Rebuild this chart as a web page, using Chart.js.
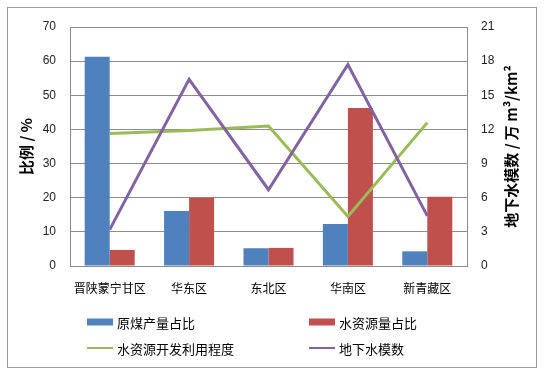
<!DOCTYPE html>
<html>
<head>
<meta charset="utf-8">
<script src="https://cdn.jsdelivr.net/npm/chart.js@4"></script>
<style>
  html,body{margin:0;padding:0;background:#fff}
  #wrap{width:544px;height:376px;position:relative}
</style>
</head>
<body>
<div id="wrap"><canvas id="chart" width="544" height="376"></canvas></div>
<script>
// regions and values
const regions = ['晋陕蒙宁甘区','华东区','东北区','华南区','新青藏区']
const coalShare = [61.3, 16.1, 5.2, 12.3, 4.3]      // 原煤产量占比 %
const waterShare = [4.7, 20.0, 5.3, 46.3, 20.3]     // 水资源量占比 %
const waterUse = [38.8, 39.7, 41.0, 14.5, 42.0]     // 水资源开发利用程度 %
const groundModulus = [3.2, 16.4, 6.7, 17.7, 4.4]   // 地下水模数 万m3/km2

const leftTicks = [0,10,20,30,40,50,60,70]
const rightTicks = [0,3,6,9,12,15,18,21]

const FONT = '"Liberation Sans", "Noto Sans CJK SC", sans-serif'
const CJK = '"Noto Sans CJK SC", "Liberation Sans", sans-serif'

const framePlugin = {
  id:'frame',
  beforeDraw(chart){
    const c = chart.ctx
    c.save()
    c.fillStyle = '#fff'
    c.fillRect(0,0,chart.width,chart.height)
    c.strokeStyle = '#9a9a9a'
    c.lineWidth = 1
    c.strokeRect(7.5,7.5,529,360)
    c.restore()
  },
  afterDraw(chart){
    const c = chart.ctx
    const area = chart.chartArea
    const midY = (area.top+area.bottom)/2
    c.save()
    c.fillStyle = '#000'
    c.textAlign = 'center'
    c.textBaseline = 'middle'
    // axis titles, both reading bottom-to-top
    c.font = 'bold 15px ' + CJK
    c.translate(26, midY); c.rotate(-Math.PI/2)
    c.fillText('比例 / %', 0, 0)
    c.setTransform(1,0,0,1,0,0)
    c.translate(511, midY); c.rotate(-Math.PI/2)
    c.fillText('地下水模数 / 万 m³/km²', 0, 0)
    c.setTransform(1,0,0,1,0,0)
    // legend, 2 x 2
    const items = [
      {ds:0, x:87, y:322}, {ds:1, x:309, y:322},
      {ds:2, x:87, y:348}, {ds:3, x:309, y:348}
    ]
    c.font = '13px ' + CJK
    c.textAlign = 'left'
    items.forEach(it=>{
      const d = chart.data.datasets[it.ds]
      if(d.type==='bar'){
        c.fillStyle = d.backgroundColor
        c.fillRect(it.x, it.y-3.5, 26, 7)
      } else {
        c.strokeStyle = d.borderColor
        c.lineWidth = 2
        c.beginPath(); c.moveTo(it.x, it.y); c.lineTo(it.x+26, it.y); c.stroke()
      }
      c.fillStyle = '#000'
      c.fillText(d.label, it.x+30, it.y+1)
    })
    c.restore()
  }
}

new Chart(document.getElementById('chart'), {
  data:{
    labels: regions,
    datasets:[
      {type:'bar', label:'原煤产量占比', data:coalShare, backgroundColor:'#4F81BD', yAxisID:'y', order:2,
       categoryPercentage:0.63, barPercentage:1.0},
      {type:'bar', label:'水资源量占比', data:waterShare, backgroundColor:'#C0504D', yAxisID:'y', order:2,
       categoryPercentage:0.63, barPercentage:1.0},
      {type:'line', label:'水资源开发利用程度', data:waterUse, borderColor:'#9BBB59', borderWidth:3,
       pointRadius:0, tension:0, yAxisID:'y', order:1},
      {type:'line', label:'地下水模数', data:groundModulus, borderColor:'#8064A2', borderWidth:3,
       pointRadius:0, tension:0, yAxisID:'y1', order:0}
    ]
  },
  options:{
    responsive:false,
    animation:false,
    events:[],
    layout:{padding:{top:27,left:0,right:0,bottom:0}},
    plugins:{legend:{display:false}, tooltip:{enabled:false}},
    scales:{
      x:{
        grid:{display:false, drawTicks:false},
        border:{display:true, color:'#8c8c8c'},
        ticks:{color:'#000', font:{family:CJK, size:12}, padding:15, maxRotation:0},
        afterFit(s){ s.height = 110 }
      },
      y:{
        position:'left', min:0, max:70,
        afterBuildTicks(s){ s.ticks = leftTicks.map(v=>({value:v})) },
        grid:{color:'#8c8c8c', drawTicks:false},
        border:{display:true, color:'#8c8c8c'},
        ticks:{color:'#222', font:{family:FONT, size:12}, padding:14},
        afterFit(s){ s.width = 70 }
      },
      y1:{
        position:'right', min:0, max:21,
        afterBuildTicks(s){ s.ticks = rightTicks.map(v=>({value:v})) },
        grid:{drawOnChartArea:false, drawTicks:false},
        border:{display:true, color:'#8c8c8c'},
        ticks:{color:'#222', font:{family:FONT, size:12}, padding:14},
        afterFit(s){ s.width = 77 }
      }
    }
  },
  plugins:[framePlugin]
})
</script>
</body>
</html>
